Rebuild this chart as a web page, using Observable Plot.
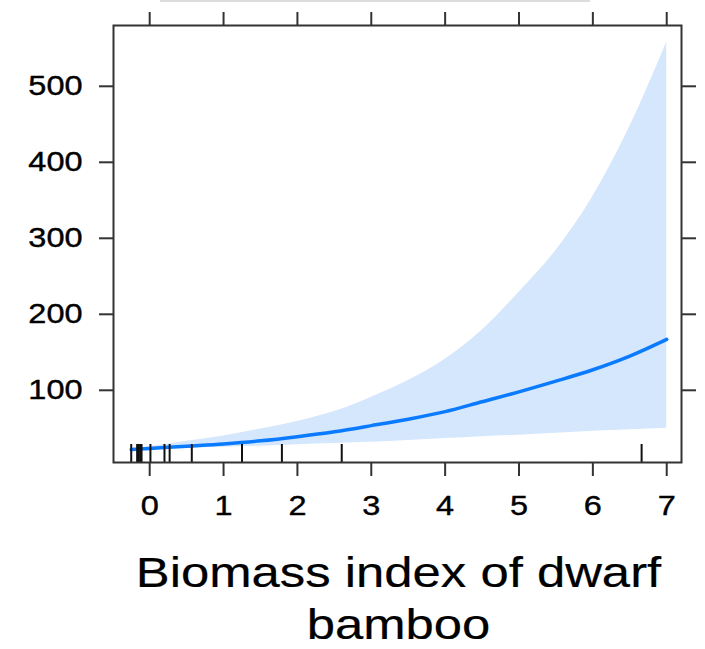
<!DOCTYPE html>
<html><head><meta charset="utf-8">
<script src="https://cdn.jsdelivr.net/npm/d3@7"></script>
<script src="https://cdn.jsdelivr.net/npm/@observablehq/plot@0.6"></script>
<style>
body{margin:0;background:#fff;}
#wrap{position:relative;width:705px;height:649px;overflow:hidden;background:#fff;}
#strip{position:absolute;left:160px;top:0;width:430px;height:2px;background:#dcdcdc;}
#title{position:absolute;left:0;top:547px;width:705px;text-align:center;font-family:"Liberation Sans",Arial,sans-serif;font-size:42px;line-height:52px;color:#000;transform:translateX(46px) scaleX(1.21);-webkit-text-stroke:0.2px #000;}
</style></head>
<body>
<div id="wrap"><div id="chart"></div><div id="strip"></div><div id="title"></div></div>
<script>
// ---- data ----
const xGrid       = [-0.25, 0, 0.5, 1, 1.5, 2, 2.5, 3, 3.5, 4, 4.5, 5, 5.5, 6, 6.5, 7];
const fitValues   = [22, 23.5, 26.5, 29.5, 33.5, 39, 45.5, 53.5, 62, 72, 85, 98, 112, 127, 145, 167];
const lowerValues = [21, 22, 23.5, 25, 26.5, 28.5, 30, 31.5, 34, 36.5, 39, 41, 43.5, 46, 48, 50];
const upperValues = [23, 26, 33, 40, 49, 59, 72, 91, 113, 141, 179, 229, 284, 355, 447, 558];
const rugValues   = [-0.25, -0.17, -0.15, -0.13, -0.11, 0.01, 0.2, 0.27, 0.57, 1.25, 1.79, 2.6, 6.66];
const xTicks      = [0, 1, 2, 3, 4, 5, 6, 7];
const yTicks      = [100, 200, 300, 400, 500];
const xTitleLines = ["Biomass index of dwarf", "bamboo"];

// ---- layout / style ----
const W = 705, H = 530, mL = 113, mR = 24, mT = 25, mB = 68;
const rugLen = 18;
const rows = xGrid.map((x, i) => ({x, fit: fitValues[i], lo: lowerValues[i], hi: upperValues[i]}));

const chart = Plot.plot({
  width: W, height: H,
  marginLeft: mL, marginRight: mR, marginTop: mT, marginBottom: mB,
  style: {fontFamily: '"Liberation Sans", Arial, sans-serif', fontSize: "28px", color: "#000", background: "#fff", overflow: "visible"},
  x: {domain: [-0.49, 7.2]},
  y: {domain: [5, 580]},
  marks: [
    Plot.areaY(rows, {x: "x", y1: "lo", y2: "hi", fill: "#d5e7fd", curve: "monotone-x"}),
    Plot.line(rows, {x: "x", y: "fit", stroke: "#0a7bff", strokeWidth: 3.5, curve: "monotone-x"}),
    Plot.ruleX(rugValues, {x: d => d, stroke: "#111", strokeWidth: 2, insetTop: H - mT - mB - rugLen}),
    Plot.frame({stroke: "#333", strokeWidth: 2}),
    Plot.axisY({anchor: "left", ticks: yTicks, tickSize: 14, tickPadding: 17, label: null, stroke: "#333", strokeWidth: 2}),
    Plot.axisY({anchor: "right", ticks: yTicks, tickSize: 14, tickFormat: () => "", label: null, stroke: "#333", strokeWidth: 2}),
    Plot.axisX({anchor: "top", ticks: xTicks, tickSize: 14, tickFormat: () => "", label: null, stroke: "#333", strokeWidth: 2}),
    Plot.axisX({anchor: "bottom", ticks: xTicks, tickSize: 14, tickPadding: 19, label: null, stroke: "#333", strokeWidth: 2})
  ]
});

// widen tick labels slightly (reference glyphs are horizontally stretched)
chart.querySelectorAll("text").forEach(t => {
  const tr = t.getAttribute("transform");
  if (tr) {
    t.setAttribute("transform", tr + " scale(1.16,1)");
  } else {
    const x = +(t.getAttribute("x") || 0), y = +(t.getAttribute("y") || 0);
    t.setAttribute("x", 0); t.setAttribute("y", 0);
    t.setAttribute("transform", `translate(${x},${y}) scale(1.16,1)`);
  }
  t.style.stroke = "#000";
  t.style.strokeWidth = "0.4px";
});

document.getElementById("chart").appendChild(chart);
const title = document.getElementById("title");
xTitleLines.forEach((line, i) => {
  if (i) title.appendChild(document.createElement("br"));
  title.appendChild(document.createTextNode(line));
});
</script>
</body></html>
